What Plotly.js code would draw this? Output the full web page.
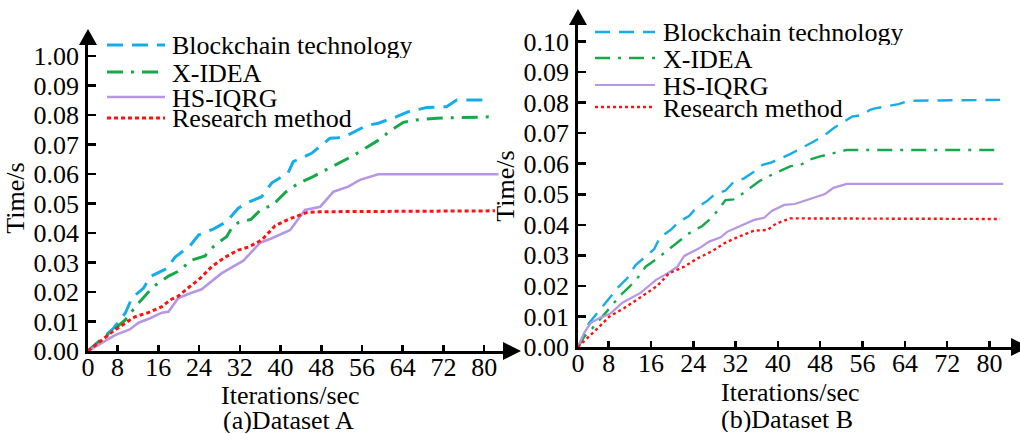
<!DOCTYPE html>
<html>
<head>
<meta charset="utf-8">
<script src="https://cdn.plot.ly/plotly-3.0.1.min.js"></script>
<style>html,body{margin:0;padding:0;background:#fff;}#chart{width:1020px;height:434px;}</style>
</head>
<body>
<div id="chart"></div>
<script>
// ---------- data ----------
var seriesNames = ["Blockchain technology", "X-IDEA", "HS-IQRG", "Research method"];
var xTickVals = [8, 16, 24, 32, 40, 48, 56, 64, 72, 80];
var xTickText = ["0", "8", "16", "24", "32", "40", "48", "56", "64", "72", "80"];
var yTickVals = [0, 0.01, 0.02, 0.03, 0.04, 0.05, 0.06, 0.07, 0.08, 0.09, 0.10];
var yTickTextA = ["0.00", "0.01", "0.02", "0.03", "0.04", "0.05", "0.06", "0.07", "0.08", "0.09", "1.00"];
var yTickTextB = ["0.00", "0.01", "0.02", "0.03", "0.04", "0.05", "0.06", "0.07", "0.08", "0.09", "0.10"];

// Dataset A
var aBlockX = [2.2, 7.2, 9.5, 10.8, 13.1, 14.4, 17.7, 19.3, 22.2, 23.9, 26.8, 29.4, 31.7, 33.7, 36.3, 37.0, 38.3, 41.5, 42.5, 46.1, 48.1, 49.7, 51.4, 53.6, 56.9, 59.2, 62.8, 65.1, 68.7, 72.6, 74.6, 80.8];
var aBlockY = [0, 0.0077, 0.0128, 0.0179, 0.0213, 0.0252, 0.0280, 0.0318, 0.0356, 0.0393, 0.0413, 0.0438, 0.0484, 0.0504, 0.0523, 0.0540, 0.0570, 0.0604, 0.0642, 0.0670, 0.0698, 0.0721, 0.0723, 0.0735, 0.0764, 0.0772, 0.0794, 0.0811, 0.0825, 0.0828, 0.0851, 0.0851];
var aIdeaX = [2.2, 5.5, 7.5, 9.5, 11.8, 13.3, 15.0, 18.0, 20.5, 22.2, 25.2, 25.5, 27.3, 29.4, 30.4, 31.7, 34.2, 36.2, 38.6, 39.3, 41.1, 43.5, 46.4, 48.9, 51.0, 54.3, 56.8, 59.0, 61.8, 64.1, 66.6, 70.7, 75.6, 81.9];
var aIdeaY = [0, 0.0048, 0.0078, 0.0105, 0.0156, 0.0186, 0.0218, 0.0254, 0.0275, 0.0306, 0.0322, 0.0331, 0.0362, 0.0387, 0.0416, 0.0435, 0.0446, 0.0480, 0.0495, 0.0509, 0.0540, 0.0568, 0.0591, 0.0614, 0.0633, 0.0662, 0.0689, 0.0712, 0.0749, 0.0775, 0.0783, 0.0789, 0.0791, 0.0794];
var aIqrgX = [2.2, 7.5, 10.4, 12.1, 14.4, 16.7, 18.0, 19.9, 21.9, 24.5, 28.4, 32.7, 36.0, 38.3, 41.9, 44.8, 47.8, 50.4, 53.3, 55.6, 59.2, 82.8];
var aIqrgY = [0, 0.0054, 0.0073, 0.0096, 0.0111, 0.0130, 0.0133, 0.0179, 0.0193, 0.0209, 0.0263, 0.0306, 0.0367, 0.0382, 0.0410, 0.0478, 0.0489, 0.0540, 0.0557, 0.0580, 0.0599, 0.0599];
var aResX = [2.2, 7.2, 9.5, 11.4, 14.0, 16.7, 18.3, 19.9, 22.6, 24.2, 26.5, 29.1, 31.7, 33.7, 36.3, 38.9, 41.5, 45.1, 47.8, 82.1];
var aResY = [0, 0.0068, 0.0094, 0.0116, 0.0130, 0.0150, 0.0173, 0.0186, 0.0224, 0.0246, 0.0286, 0.0318, 0.0342, 0.0352, 0.0376, 0.0424, 0.0446, 0.0469, 0.0472, 0.0475];

// Dataset B
var bBlockX = [2.2, 2.7, 4.3, 7.5, 8.4, 9.6, 11.5, 13.1, 15.3, 16.6, 17.7, 19.7, 21.3, 23.2, 24.5, 26.7, 27.9, 30.1, 31.4, 33.6, 35.5, 37.1, 38.6, 42.4, 46.7, 48.9, 50.5, 52.4, 54.0, 55.8, 57.4, 58.4, 61.2, 62.8, 64.7, 82.0];
var bBlockY = [0, 0.0017, 0.0078, 0.0143, 0.0165, 0.0192, 0.0225, 0.0268, 0.0301, 0.0320, 0.0359, 0.0383, 0.0410, 0.0429, 0.0454, 0.0479, 0.0498, 0.0512, 0.0536, 0.0552, 0.0574, 0.0596, 0.0603, 0.0632, 0.0672, 0.0694, 0.0716, 0.0737, 0.0754, 0.0759, 0.0776, 0.0781, 0.0789, 0.0795, 0.0806, 0.0809];
var bIdeaX = [2.2, 3.4, 4.9, 6.5, 7.8, 8.9, 10.3, 11.9, 13.1, 14.1, 15.0, 17.2, 21.9, 23.2, 25.7, 27.0, 28.2, 30.1, 31.6, 33.0, 35.5, 36.6, 38.0, 40.5, 42.4, 44.2, 46.1, 47.8, 49.9, 53.0, 82.0];
var bIdeaY = [0, 0.0034, 0.0061, 0.0094, 0.0121, 0.0141, 0.0170, 0.0197, 0.0217, 0.0241, 0.0263, 0.0290, 0.0356, 0.0372, 0.0396, 0.0416, 0.0438, 0.0481, 0.0483, 0.0498, 0.0530, 0.0544, 0.0557, 0.0577, 0.0592, 0.0595, 0.0614, 0.0623, 0.0632, 0.0645, 0.0645];
var bIqrgX = [2.2, 3.4, 4.6, 6.2, 8.4, 10.6, 14.1, 16.9, 19.1, 21.0, 22.3, 25.1, 27.0, 29.2, 30.4, 33.3, 35.5, 37.4, 38.9, 41.2, 43.2, 48.9, 50.5, 53.0, 82.6];
var bIqrgY = [0, 0.0047, 0.0078, 0.0094, 0.0110, 0.0145, 0.0178, 0.0219, 0.0241, 0.0263, 0.0298, 0.0323, 0.0345, 0.0359, 0.0377, 0.0399, 0.0416, 0.0423, 0.0446, 0.0465, 0.0468, 0.0501, 0.0521, 0.0534, 0.0534];
var bResX = [2.2, 4.3, 6.2, 8.1, 10.9, 13.7, 17.2, 19.4, 22.3, 24.8, 27.6, 29.8, 32.3, 35.5, 38.0, 39.6, 42.3, 82.0];
var bResY = [0, 0.0034, 0.0066, 0.0099, 0.0127, 0.0159, 0.0200, 0.0241, 0.0263, 0.0290, 0.0314, 0.0339, 0.0359, 0.0381, 0.0383, 0.0403, 0.0421, 0.0419];

// ---------- styles ----------
var W = 1020, H = 434;
var FONT = "Liberation Serif, Times New Roman, serif";
var colors = ["#15ACE9", "#17A84A", "#B796E4", "#FF1111"];
var dashesA = ["16px,9px", "16px,8px,3px,8px", "solid", "4px,3px"];
var dashesB = ["15px,9px", "15px,8px,3px,8px", "solid", "3px,3px"];
var widthsA = [3, 3, 2.6, 3];
var widthsB = [2.4, 2.4, 2.2, 2.4];

function px(x) { return x / W; }
function py(y) { return (H - y) / H; }

// plot frames in pixels
var A = {x0: 88, x1: 503, y0: 351, y1: 45, xmin: 2.19, xmax: 83.69, ymax: 0.1037};
var B = {x0: 578, x1: 1011, y0: 347, y1: 25, xmin: 2.21, xmax: 84.06, ymax: 0.1054};

var dataA = [[aBlockX, aBlockY], [aIdeaX, aIdeaY], [aIqrgX, aIqrgY], [aResX, aResY]];
var dataB = [[bBlockX, bBlockY], [bIdeaX, bIdeaY], [bIqrgX, bIqrgY], [bResX, bResY]];

var traces = [];
dataA.forEach(function (d, i) {
  traces.push({x: d[0], y: d[1], type: "scatter", mode: "lines", name: seriesNames[i],
    xaxis: "x", yaxis: "y", showlegend: false, cliponaxis: false,
    line: {color: colors[i], width: widthsA[i], dash: dashesA[i]}});
});
dataB.forEach(function (d, i) {
  traces.push({x: d[0], y: d[1], type: "scatter", mode: "lines", name: seriesNames[i],
    xaxis: "x2", yaxis: "y2", showlegend: false, cliponaxis: false,
    line: {color: colors[i], width: widthsB[i], dash: dashesB[i]}});
});

function xAxis(f, anchor) {
  return {
    domain: [px(f.x0), px(f.x1)], range: [f.xmin, f.xmax], anchor: anchor,
    tickmode: "array", tickvals: [f.xmin].concat(xTickVals), ticktext: xTickText,
    ticks: "inside", ticklen: 6, tickwidth: 2.5, tickcolor: "#000",
    showline: true, linewidth: 2.8, linecolor: "#000", mirror: false,
    showgrid: false, zeroline: false, ticklabelstandoff: -9,
    tickfont: {family: FONT, size: 26, color: "#000"}
  };
}
function yAxis(f, anchor, ticktext) {
  return {
    domain: [py(f.y0), py(f.y1)], range: [0, f.ymax], anchor: anchor,
    tickmode: "array", tickvals: yTickVals, ticktext: ticktext,
    ticks: "inside", ticklen: 8, tickwidth: 2.5, tickcolor: "#000",
    showline: true, linewidth: 2.8, linecolor: "#000",
    showgrid: false, zeroline: false, ticklabelstandoff: 1,
    tickfont: {family: FONT, size: 26, color: "#000"},
    title: {text: "Time/s", font: {family: FONT, size: 26, color: "#000"}, standoff: 2}
  };
}

var shapes = [];
var annotations = [];
function tri(pts) {
  var p = "M" + pts.map(function (q) { return px(q[0]) + "," + py(q[1]); }).join(" L") + " Z";
  shapes.push({type: "path", xref: "paper", yref: "paper", path: p, fillcolor: "#000", line: {width: 0}});
}
// axis arrows
tri([[A.x0 - 9, A.y1], [A.x0 + 9, A.y1], [A.x0, A.y1 - 16]]);
tri([[A.x1, A.y0 - 9], [A.x1, A.y0 + 9], [A.x1 + 18, A.y0]]);
tri([[B.x0 - 9, B.y1], [B.x0 + 9, B.y1], [B.x0, B.y1 - 16]]);
tri([[B.x1, B.y0 - 9], [B.x1, B.y0 + 9], [B.x1 + 18, B.y0]]);

function label(x, y, text, anchor) {
  annotations.push({xref: "paper", yref: "paper", x: px(x), y: py(y), xanchor: anchor || "center", yanchor: "middle",
    text: text, showarrow: false, height: 25, valign: "middle", borderpad: 0,
    font: {family: FONT, size: 26, color: "#000"}});
}

// custom legends (tight row spacing as in the reference)
function legend(lx0, lx1, tx, rows, dashes, widths) {
  rows.forEach(function (yy, i) {
    shapes.push({type: "line", xref: "paper", yref: "paper", x0: px(lx0), x1: px(lx1), y0: py(yy), y1: py(yy),
      line: {color: colors[i], width: widths[i], dash: dashes[i]}});
    label(tx, yy + 1, seriesNames[i], "left");
  });
}
legend(107, 165, 171, [45, 72, 97, 118], dashesA, widthsA);
legend(595, 655, 662, [32, 58, 85, 107], dashesB, widthsB);

// axis titles and sub-captions
label(290, 395, "Iterations/sec");
label(790, 392, "Iterations/sec");
label(288, 420.5, "(a)Dataset A");
label(787, 419, "(b)Dataset B");

var layout = {
  width: W, height: H, margin: {l: 0, r: 0, t: 0, b: 0},
  paper_bgcolor: "#fff", plot_bgcolor: "rgba(0,0,0,0)",
  showlegend: false,
  font: {family: FONT, size: 26, color: "#000"},
  xaxis: xAxis(A, "y"),
  yaxis: yAxis(A, "x", yTickTextA),
  xaxis2: xAxis(B, "y2"),
  yaxis2: yAxis(B, "x2", yTickTextB),
  shapes: shapes, annotations: annotations
};

Plotly.newPlot("chart", traces, layout, {displayModeBar: false, staticPlot: true});
</script>
</body>
</html>
